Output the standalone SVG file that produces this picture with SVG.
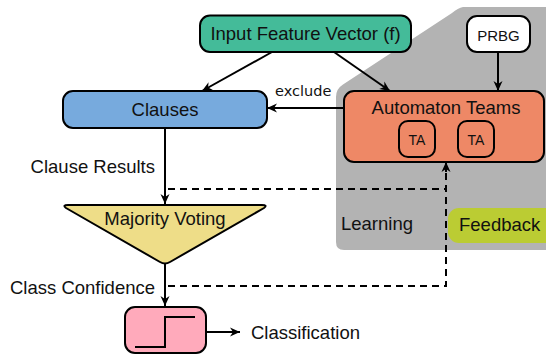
<svg xmlns="http://www.w3.org/2000/svg" width="546" height="354" viewBox="0 0 546 354">
<defs>
<marker id="ah" markerUnits="userSpaceOnUse" markerWidth="12" markerHeight="12" viewBox="0 0 12 12" refX="11" refY="6" orient="auto">
<path d="M1,1.5 L11,6 L1,10.5 L4,6 Z" fill="#000"/>
</marker>
</defs>
<style>
.t{font-family:"Liberation Sans",Arial,sans-serif;font-size:18.5px;fill:#111}
.box{stroke:#000;stroke-width:2}
.ln{stroke:#000;stroke-width:2;fill:none}
.dash{stroke:#000;stroke-width:2;fill:none;stroke-dasharray:7 5}
</style>
<g id="learning">
<path d="M546,7 L463,7 Q458,8 452,13 L343,84.6 Q336,89 336,97 L336,242 Q336,250 344,250 L546,250 Z" fill="#b3b3b3"/>
<text class="t" x="341" y="230">Learning</text>
</g>
<g id="feedback">
<rect x="448" y="208" width="108" height="35" rx="11" fill="#bbcc33"/>
<text class="t" x="459" y="231">Feedback</text>
</g>
<g id="connectors">
<line class="ln" x1="272" y1="52" x2="202" y2="91" marker-end="url(#ah)"/>
<line class="ln" x1="334" y1="52" x2="390" y2="91" marker-end="url(#ah)"/>
<line class="ln" x1="498" y1="52" x2="498" y2="91" marker-end="url(#ah)"/>
<line class="ln" x1="344" y1="108" x2="267" y2="108" marker-end="url(#ah)"/>
<line class="ln" x1="165" y1="128" x2="165" y2="204" marker-end="url(#ah)"/>
<line class="ln" x1="165" y1="264" x2="165" y2="306" marker-end="url(#ah)"/>
<line class="ln" x1="206" y1="332" x2="240" y2="332" marker-end="url(#ah)"/>
<polyline class="dash" points="168,189 446,189"/>
<polyline class="dash" points="168,286 446,286 446,170"/>
<line class="ln" x1="446" y1="172" x2="446" y2="162" marker-end="url(#ah)"/>
<text x="275" y="96" style="font-family:'DejaVu Sans',sans-serif;font-size:14.5px;fill:#111">exclude</text>
<text class="t" x="155" y="172.5" text-anchor="end">Clause Results</text>
<text class="t" x="155" y="294" text-anchor="end">Class Confidence</text>
<text class="t" x="251" y="339">Classification</text>
</g>
<g id="input">
<rect class="box" x="200" y="15.5" width="211" height="36.5" rx="10" fill="#44bb99"/>
<text class="t" x="305.5" y="39.5" text-anchor="middle">Input Feature Vector (f)</text>
</g>
<g id="prbg">
<rect class="box" x="467" y="16" width="63" height="36" rx="10" fill="#fff"/>
<text class="t" x="498.5" y="41" text-anchor="middle" style="font-size:15px">PRBG</text>
</g>
<g id="clauses">
<rect class="box" x="63" y="91" width="204" height="37" rx="10" fill="#77aadd"/>
<text class="t" x="165" y="116" text-anchor="middle">Clauses</text>
</g>
<g id="automaton">
<rect class="box" x="344" y="91" width="200" height="71" rx="10" fill="#ee8866"/>
<text class="t" x="446" y="114" text-anchor="middle">Automaton Teams</text>
<rect class="box" x="399" y="121" width="36" height="36" rx="9" fill="#ee8866"/>
<text class="t" x="417" y="145" text-anchor="middle" style="font-size:14px">TA</text>
<rect class="box" x="458" y="121" width="36" height="36" rx="9" fill="#ee8866"/>
<text class="t" x="476" y="145" text-anchor="middle" style="font-size:14px">TA</text>
</g>
<g id="voting">
<path class="box" d="M68,205 L262,205 Q268,205 264,208 L170,262 Q165,265 160,262 L66,208 Q62,205 68,205 Z" fill="#eedd88" stroke-linejoin="round"/>
<text class="t" x="165" y="225" text-anchor="middle">Majority Voting</text>
</g>
<g id="classifier">
<rect class="box" x="125" y="307" width="81" height="46" rx="10" fill="#ffaabb"/>
<polyline class="ln" points="135,347 165,347 165,317 195,317"/>
</g>
</svg>
